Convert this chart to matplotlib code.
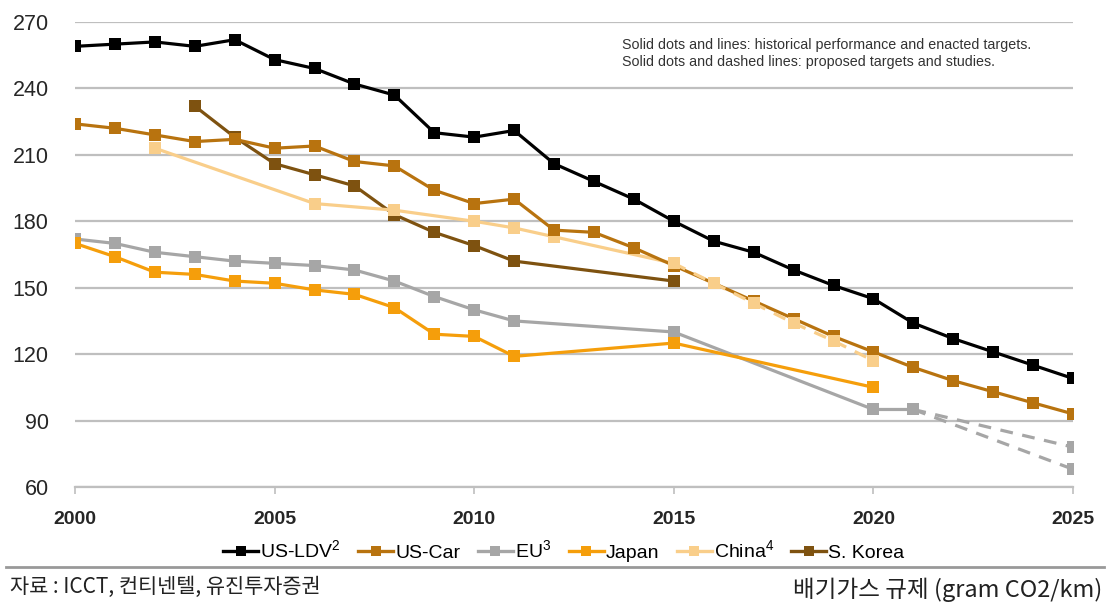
import matplotlib
matplotlib.use("Agg")
import matplotlib.pyplot as plt
from matplotlib.lines import Line2D

plt.rcParams['font.family'] = ['Liberation Sans', 'DejaVu Sans']
plt.rcParams['mathtext.fontset'] = 'custom'
plt.rcParams['mathtext.rm'] = 'Liberation Sans'

# ---- data (gram CO2/km) ----
us_ldv_years = list(range(2000, 2026))
us_ldv = [259, 260, 261, 259, 262, 253, 249, 242, 237, 220, 218, 221, 206,
          198, 190, 180, 171, 166, 158, 151, 145, 134, 127, 121, 115, 109]

us_car_years = list(range(2000, 2026))
us_car = [224, 222, 219, 216, 217, 213, 214, 207, 205, 194, 188, 190, 176,
          175, 168, 160, 152, 144, 136, 128, 121, 114, 108, 103, 98, 93]

eu_years = [2000, 2001, 2002, 2003, 2004, 2005, 2006, 2007, 2008, 2009, 2010,
            2011, 2015, 2020, 2021]
eu = [172, 170, 166, 164, 162, 161, 160, 158, 153, 146, 140, 135, 130, 95, 95]
eu_proposed_years = [2021, 2025]
eu_proposed_high = [95, 78]
eu_proposed_low = [95, 68]

japan_years = [2000, 2001, 2002, 2003, 2004, 2005, 2006, 2007, 2008, 2009,
               2010, 2011, 2015, 2020]
japan = [170, 164, 157, 156, 153, 152, 149, 147, 141, 129, 128, 119, 125, 105]

china_years = [2002, 2006, 2008, 2010, 2011, 2012, 2015]
china = [213, 188, 185, 180, 177, 173, 161]
china_proposed_years = [2015, 2016, 2017, 2018, 2019, 2020]
china_proposed = [161, 152, 143, 134, 126, 117]

korea_years = [2003, 2004, 2005, 2006, 2007, 2008, 2009, 2010, 2011, 2015]
korea = [232, 218, 206, 201, 196, 183, 175, 169, 162, 153]

series_labels = ['US-LDV$^2$', 'US-Car', 'EU$^3$', 'Japan', 'China$^4$', 'S. Korea']
x_ticks = [2000, 2005, 2010, 2015, 2020, 2025]
y_ticks = [60, 90, 120, 150, 180, 210, 240, 270]

# ---- colours ----
c_ldv = '#000000'
c_car = '#B8730F'
c_eu = '#A6A6A6'
c_jp = '#F59E0B'
c_cn = '#F9CE8A'
c_kr = '#7E5210'

fig = plt.figure(figsize=(11.1, 6.06), dpi=100)
ax = fig.add_axes([0.0676, 0.1964, 0.8991, 0.7673])

lw = 2.3
ms = 8.5
common = dict(marker='s', markersize=ms, linewidth=lw, markeredgewidth=0)

ax.plot(eu_proposed_years, eu_proposed_high, color=c_eu, linestyle=(0, (4, 3)),
        linewidth=lw, zorder=2)
ax.plot(eu_proposed_years, eu_proposed_low, color=c_eu, linestyle=(0, (4, 3)),
        linewidth=lw, zorder=2)
ax.plot(eu_proposed_years[1:], eu_proposed_high[1:], color=c_eu, marker='s',
        markersize=ms, markeredgewidth=0, linestyle='none', zorder=3)
ax.plot(eu_proposed_years[1:], eu_proposed_low[1:], color=c_eu, marker='s',
        markersize=ms, markeredgewidth=0, linestyle='none', zorder=3)
ax.plot(eu_years, eu, color=c_eu, zorder=3, **common)
ax.plot(japan_years, japan, color=c_jp, zorder=4, **common)
ax.plot(korea_years, korea, color=c_kr, zorder=4, **common)
ax.plot(china_years, china, color=c_cn, zorder=4, **common)
ax.plot(us_car_years, us_car, color=c_car, zorder=5, **common)
ax.plot(china_proposed_years, china_proposed, color=c_cn, marker='s',
        markersize=ms, markeredgewidth=0, linewidth=lw,
        linestyle=(0, (4, 3)), zorder=6)
ax.plot(us_ldv_years, us_ldv, color=c_ldv, zorder=7, **common)

ax.set_xlim(2000, 2025)
ax.set_ylim(60, 270)
ax.set_yticks(y_ticks)
ax.set_xticks(x_ticks)
ax.set_xticklabels([str(t) for t in x_ticks], fontsize=14, fontweight='bold',
                   color='#262626')
ax.set_yticklabels([str(t) for t in y_ticks], fontsize=15.5, color='#262626')
ax.grid(axis='y', color='#BFBFBF', linewidth=1.6)
ax.set_axisbelow(True)
for s in ['top', 'right', 'left']:
    ax.spines[s].set_visible(False)
ax.spines['bottom'].set_color('#BFBFBF')
ax.spines['bottom'].set_linewidth(1.6)
ax.tick_params(axis='y', length=0, pad=19)
ax.tick_params(axis='x', length=5, width=1.2, color='#BFBFBF', pad=12)

ax.text(0.548, 0.965,
        'Solid dots and lines: historical performance and enacted targets.\n'
        'Solid dots and dashed lines: proposed targets and studies.',
        transform=ax.transAxes, fontsize=10.3, color='#333333', va='top',
        ha='left', linespacing=1.25)

handles = [Line2D([], [], color=c, marker='s', markersize=6.5, linewidth=2.4,
                  markeredgewidth=0)
           for c in [c_ldv, c_car, c_eu, c_jp, c_cn, c_kr]]
fig.legend(handles, series_labels, loc='center', bbox_to_anchor=(0.508, 0.091),
           ncol=6, frameon=False, fontsize=14, handlelength=1.8,
           handletextpad=0.1, columnspacing=0.9)

fig.add_artist(Line2D([0.005, 0.995], [0.064, 0.064], color='#999999',
                      linewidth=2.0, transform=fig.transFigure))

fig.text(0.009, 0.031, '자료 : ICCT, 컨티넨텔, 유진투자증권',
         family=['Noto Sans CJK KR', 'DejaVu Sans'], fontsize=15,
         color='#222222', va='center', ha='left')
fig.text(0.993, 0.027, '배기가스 규제 (gram CO2/km)',
         family=['Noto Sans CJK KR', 'DejaVu Sans'], fontsize=17,
         color='#222222', va='center', ha='right')

fig.savefig('out.png', dpi=100)
